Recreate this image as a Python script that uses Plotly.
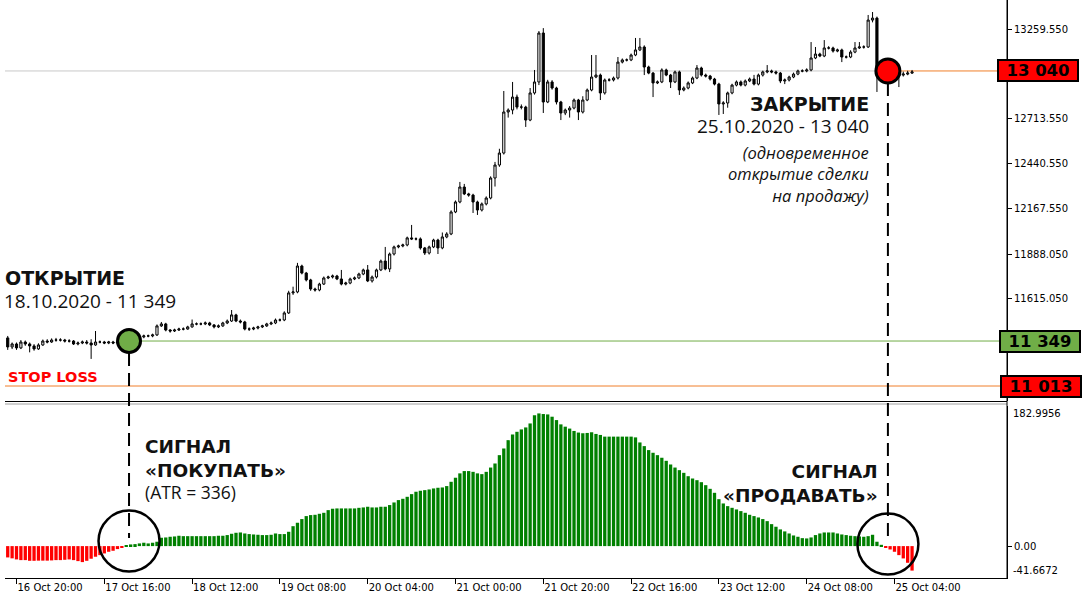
import pandas as pd
import plotly.graph_objects as go

# ---------------- data (hourly bars) ----------------
START = "2020-10-16 18:00"

OPEN = [
    11378, 11323, 11341, 11317, 11353, 11341, 11329, 11311, 11335, 11359,
    11353, 11365, 11365, 11365, 11359, 11359, 11341, 11347, 11353, 11347,
    11335, 11353, 11353, 11347, 11353, 11347, 11353, 11359, 11359, 11378,
    11384, 11384, 11390, 11390, 11396, 11451, 11463, 11426, 11420, 11426,
    11432, 11432, 11445, 11463, 11463, 11463, 11469, 11457, 11445, 11451,
    11469, 11481, 11518, 11481, 11475, 11432, 11432, 11438, 11445, 11451,
    11463, 11469, 11487, 11487, 11530, 11652, 11658, 11816, 11773, 11731,
    11676, 11670, 11706, 11743, 11749, 11755, 11737, 11706, 11712, 11737,
    11743, 11767, 11792, 11725, 11749, 11792, 11846, 11798, 11889, 11932,
    11938, 11944, 11987, 11981, 11981, 11926, 11895, 11932, 11974, 11926,
    11993, 12011, 12145, 12206, 12297, 12255, 12248, 12206, 12157, 12194,
    12230, 12352, 12431, 12504, 12754, 12766, 12845, 12784, 12784, 12705,
    12870, 12937, 13235, 12815, 12937, 12900, 12815, 12748, 12766, 12778,
    12827, 12754, 12827, 12888, 12967, 12979, 12870, 12949, 12949, 12961,
    13058, 13071, 13071, 13101, 13132, 13150, 13028, 12991, 12931, 12937,
    13010, 12979, 12937, 12998, 12888, 12900, 12931, 12961, 13022, 12979,
    12973, 12955, 12924, 12803, 12809, 12870, 12918, 12937, 12918, 12943,
    12955, 12924, 12979, 12998, 13004, 12998, 12991, 12943, 12949, 12967,
    12985, 13004, 13004, 13010, 13083, 13107, 13095, 13144, 13144, 13125,
    13132, 13089, 13089, 13119, 13144, 13150, 13150, 13314, 13326, 12979,
    12998, 12985, 13004, 12973, 12979, 12985, 12991,
]
HIGH = [
    11390, 11350, 11350, 11365, 11362, 11350, 11340, 11345, 11368, 11370,
    11375, 11378, 11376, 11372, 11370, 11365, 11356, 11362, 11365, 11370,
    11420, 11362, 11360, 11360, 11360, 11362, 11366, 11368, 11386, 11392,
    11392, 11398, 11398, 11404, 11460, 11475, 11470, 11432, 11434, 11440,
    11442, 11452, 11490, 11472, 11472, 11478, 11476, 11462, 11460, 11476,
    11490, 11548, 11525, 11490, 11482, 11442, 11446, 11452, 11458, 11470,
    11478, 11496, 11496, 11540, 11665, 11690, 11835, 11824, 11780, 11738,
    11684, 11714, 11752, 11757, 11764, 11762, 11792, 11720, 11745, 11752,
    11775, 11800, 11822, 11758, 11800, 11855, 11932, 11898, 11940, 11946,
    11952, 11995, 12066, 11990, 11990, 11932, 11940, 11982, 11982, 12020,
    12022, 12155, 12215, 12328, 12316, 12262, 12256, 12214, 12203, 12240,
    12362, 12450, 12530, 12882, 12776, 12937, 12860, 12800, 12792, 12900,
    13010, 13247, 13265, 12950, 12948, 12908, 12822, 12775, 12790, 12836,
    12834, 12850, 12897, 13101, 13101, 12988, 12958, 12960, 12970, 13089,
    13080, 13080, 13110, 13205, 13205, 13160, 13036, 12998, 12946, 13020,
    13018, 12986, 13006, 13006, 12910, 12940, 12970, 13040, 13030, 12988,
    12980, 12962, 12932, 12820, 12878, 12926, 12946, 12946, 12952, 12964,
    12980, 12988, 13006, 13040, 13012, 13006, 12998, 12958, 12975, 12994,
    13012, 13014, 13020, 13180, 13150, 13115, 13192, 13155, 13152, 13140,
    13140, 13098, 13130, 13180, 13180, 13160, 13345, 13363, 13335, 13010,
    13006, 13012, 13012, 12990, 13000, 13005, 13010,
]
LOW = [
    11305, 11310, 11305, 11310, 11330, 11290, 11300, 11305, 11330, 11345,
    11348, 11355, 11356, 11350, 11350, 11335, 11333, 11340, 11338, 11250,
    11330, 11345, 11340, 11340, 11340, 11342, 11348, 11350, 11352, 11370,
    11375, 11376, 11382, 11382, 11390, 11445, 11418, 11410, 11414, 11420,
    11424, 11428, 11440, 11455, 11455, 11456, 11450, 11436, 11438, 11445,
    11462, 11475, 11474, 11466, 11424, 11420, 11425, 11430, 11438, 11445,
    11456, 11462, 11478, 11480, 11524, 11640, 11650, 11765, 11722, 11665,
    11660, 11662, 11700, 11736, 11740, 11730, 11698, 11698, 11705, 11730,
    11736, 11760, 11718, 11715, 11740, 11785, 11790, 11779, 11880, 11924,
    11930, 11936, 11974, 11972, 11916, 11883, 11886, 11925, 11889, 11918,
    11985, 12004, 12138, 12198, 12248, 12238, 12139, 12127, 12148, 12185,
    12222, 12300, 12420, 12495, 12720, 12740, 12770, 12770, 12663, 12698,
    12860, 12918, 12748, 12808, 12890, 12800, 12705, 12735, 12720, 12770,
    12705, 12745, 12820, 12880, 12960, 12827, 12860, 12940, 12940, 12952,
    13050, 13062, 13064, 13094, 13125, 12979, 12984, 12845, 12924, 12930,
    12972, 12900, 12930, 12858, 12880, 12892, 12924, 12954, 12970, 12964,
    12946, 12916, 12736, 12742, 12780, 12862, 12910, 12910, 12910, 12936,
    12916, 12916, 12970, 12990, 12990, 12982, 12930, 12924, 12940, 12960,
    12978, 12996, 12996, 13002, 13076, 13088, 13088, 13135, 13116, 13118,
    13058, 13080, 13082, 13112, 13138, 13140, 13144, 13300, 12876, 12950,
    12970, 12976, 12960, 12906, 12970, 12978, 12986,
]
CLOSE = [
    11323, 11341, 11317, 11353, 11341, 11329, 11311, 11335, 11359, 11353,
    11365, 11365, 11365, 11359, 11359, 11341, 11347, 11353, 11347, 11335,
    11353, 11353, 11347, 11353, 11347, 11353, 11359, 11359, 11378, 11384,
    11384, 11390, 11390, 11396, 11451, 11463, 11426, 11420, 11426, 11432,
    11432, 11445, 11463, 11463, 11463, 11469, 11457, 11445, 11451, 11469,
    11481, 11518, 11481, 11475, 11432, 11432, 11438, 11445, 11451, 11463,
    11469, 11487, 11487, 11530, 11652, 11658, 11816, 11773, 11731, 11676,
    11670, 11706, 11743, 11749, 11755, 11737, 11706, 11712, 11737, 11743,
    11767, 11792, 11725, 11749, 11792, 11846, 11798, 11889, 11932, 11938,
    11944, 11987, 11981, 11981, 11926, 11895, 11932, 11974, 11926, 11993,
    12011, 12145, 12206, 12297, 12255, 12248, 12206, 12157, 12194, 12230,
    12352, 12431, 12504, 12754, 12766, 12845, 12784, 12784, 12705, 12870,
    12937, 13235, 12815, 12937, 12900, 12815, 12748, 12766, 12778, 12827,
    12754, 12827, 12888, 12967, 12979, 12870, 12949, 12949, 12961, 13058,
    13071, 13071, 13101, 13132, 13150, 13028, 12991, 12931, 12937, 13010,
    12979, 12937, 12998, 12888, 12900, 12931, 12961, 13022, 12979, 12973,
    12955, 12924, 12803, 12809, 12870, 12918, 12937, 12918, 12943, 12955,
    12924, 12979, 12998, 13004, 12998, 12991, 12943, 12949, 12967, 12985,
    13004, 13004, 13010, 13083, 13107, 13095, 13144, 13144, 13125, 13132,
    13089, 13089, 13119, 13144, 13150, 13150, 13314, 13326, 12979, 12998,
    12985, 13004, 12973, 12979, 12985, 12991, 12998,
]
HIST = [
    -14.8, -16, -17.4, -18.3, -18.3, -19.2, -19.2, -19, -19, -19,
    -18.7, -18.3, -18.3, -17.9, -17.4, -18.3, -19.6, -20.9, -19.2, -16.5,
    -13.9, -11.8, -9.6, -7.4, -6.1, -3.9, -1.3, 0.9, 2.2, 2.6,
    3.5, 4.4, 3.5, 4.4, 5.7, 10.9, 11.3, 12.2, 12.6, 13.5,
    13, 13, 13, 13, 13, 13, 13, 13, 13.5, 13.5,
    14.4, 16.1, 17.4, 17.8, 16.5, 15.7, 15.2, 14.8, 14.4, 14.4,
    14.8, 16.5, 15.7, 15.7, 18.7, 26, 30.5, 35.3, 39.2, 40.5,
    40.9, 42.2, 43.5, 47, 48.8, 49.2, 49.2, 49.2, 49.2, 49.2,
    50, 50.5, 51.4, 50.5, 50.5, 51.4, 51.4, 53.6, 57, 60.1,
    61.8, 64.4, 67.9, 71, 72.3, 73.1, 74, 75.3, 76.2, 76.6,
    78.4, 84, 89.3, 95, 98, 98, 97, 95, 94, 97,
    102.6, 107.9, 118.8, 127.5, 138.4, 145.8, 149.3, 152.4, 155, 160.2,
    171, 173.3, 172.5, 172, 169, 164.6, 159, 156, 153.5, 150.4,
    148.3, 147.4, 147.8, 148.7, 146.5, 145.2, 143, 143, 143, 143,
    143, 143, 143, 142, 135.4, 130.6, 125.4, 121.9, 118.8, 115.4,
    111.4, 106.6, 102.6, 99.2, 95.7, 91.3, 88.3, 86.1, 83.5, 79.6,
    74.8, 69.6, 61.3, 55.7, 52.2, 50, 47.9, 45.7, 43.5, 40.9,
    39.2, 37.4, 35.3, 32.6, 28.7, 25.3, 21.8, 19.2, 16.5, 13.9,
    12.2, 10.4, 10, 11.3, 14.4, 16.5, 17.8, 17.8, 17.8, 16.5,
    15.2, 14.4, 13.5, 13, 12.6, 12.2, 13, 14.8, 5.7, 1.7,
    -1.5, -4.4, -7.4, -11.8, -16.1, -21.8, -32,
]

TIME_TICKS = ["2020-10-16 20:00", "2020-10-17 16:00", "2020-10-18 12:00", "2020-10-19 08:00",
              "2020-10-20 04:00", "2020-10-21 00:00", "2020-10-21 20:00", "2020-10-22 16:00",
              "2020-10-23 12:00", "2020-10-24 08:00", "2020-10-25 04:00"]
TIME_TICK_TEXT = ["16 Oct 20:00", "17 Oct 16:00", "18 Oct 12:00", "19 Oct 08:00",
                  "20 Oct 04:00", "21 Oct 00:00", "21 Oct 20:00", "22 Oct 16:00",
                  "23 Oct 12:00", "24 Oct 08:00", "25 Oct 04:00"]
PRICE_TICKS = [13259.55, 12713.55, 12440.55, 12167.55, 11888.05, 11615.05]
PRICE_TICK_TEXT = ["13259.550", "12713.550", "12440.550", "12167.550", "11888.050", "11615.050"]
OSC_MAX = 182.9956
OSC_MIN = -41.6672

# trade levels (as drawn on the chart) and their labels
CLOSE_LEVEL, CLOSE_LABEL = 13004, "13 040"
OPEN_LEVEL, OPEN_LABEL = 11359, "11 349"
STOP_LEVEL, STOP_LABEL = 11085, "11 013"
ENTRY_TIME = "2020-10-17 21:38"
EXIT_TIME = "2020-10-25 02:30"
ENTRY_RING_VALUE = 6.5
EXIT_RING_VALUE = 2.6

X_RANGE = ["2020-10-16 17:22:49", "2020-10-26 05:37:37"]
PRICE_RANGE = [10993.7, 13436.2]

# ---------------- layout helpers ----------------
W, H = 1085, 602
def px(x):
    return x / W
def py(y):
    return 1 - y / H

times = pd.date_range(START, periods=len(CLOSE), freq="h")
htimes = pd.date_range(START, periods=len(HIST), freq="h")

AX_FONT = dict(family="DejaVu Sans", size=10, color="#000000")
BOLD = "DejaVu Sans"
LIGHT = "Open Sans"

fig = go.Figure()

fig.add_trace(go.Candlestick(
    x=times, open=OPEN, high=HIGH, low=LOW, close=CLOSE,
    increasing=dict(line=dict(color="#000000", width=1), fillcolor="#ffffff"),
    decreasing=dict(line=dict(color="#000000", width=1), fillcolor="#000000"),
    whiskerwidth=0, xaxis="x", yaxis="y", showlegend=False, hoverinfo="skip",
))

fig.add_trace(go.Bar(
    x=htimes, y=HIST,
    marker=dict(color=["#008000" if v >= 0 else "#ff0000" for v in HIST], line=dict(width=0)),
    xaxis="x2", yaxis="y2", showlegend=False, hoverinfo="skip",
))

# entry / exit markers
fig.add_trace(go.Scatter(
    x=[pd.Timestamp(ENTRY_TIME)], y=[OPEN_LEVEL], mode="markers",
    marker=dict(size=23, color="#70ad47", line=dict(color="#000000", width=3)),
    xaxis="x", yaxis="y", showlegend=False, hoverinfo="skip", cliponaxis=False,
))
fig.add_trace(go.Scatter(
    x=[pd.Timestamp(EXIT_TIME)], y=[CLOSE_LEVEL], mode="markers",
    marker=dict(size=24, color="#ff0000", line=dict(color="#000000", width=3)),
    xaxis="x", yaxis="y", showlegend=False, hoverinfo="skip", cliponaxis=False,
))
fig.add_trace(go.Scatter(
    x=[pd.Timestamp(ENTRY_TIME), pd.Timestamp(EXIT_TIME)],
    y=[ENTRY_RING_VALUE, EXIT_RING_VALUE], mode="markers",
    marker=dict(size=61, color="rgba(0,0,0,0)", line=dict(color="#000000", width=2.5)),
    xaxis="x2", yaxis="y2", showlegend=False, hoverinfo="skip", cliponaxis=False,
))

shapes = []
# level lines
shapes.append(dict(type="line", xref="x", yref="y", x0=X_RANGE[0], x1=EXIT_TIME,
                   y0=CLOSE_LEVEL, y1=CLOSE_LEVEL, line=dict(color="#c8c8c8", width=1), layer="below"))
shapes.append(dict(type="line", xref="x", yref="y", x0=EXIT_TIME, x1=X_RANGE[1],
                   y0=CLOSE_LEVEL, y1=CLOSE_LEVEL, line=dict(color="#f07f2a", width=1), layer="below"))
shapes.append(dict(type="line", xref="x", yref="y", x0=ENTRY_TIME, x1=X_RANGE[1],
                   y0=OPEN_LEVEL, y1=OPEN_LEVEL, line=dict(color="#70ad47", width=1), layer="below"))
shapes.append(dict(type="line", xref="x", yref="y", x0=X_RANGE[0], x1=X_RANGE[1],
                   y0=STOP_LEVEL, y1=STOP_LEVEL, line=dict(color="#f07f2a", width=1), layer="below"))
# separator between panels
shapes.append(dict(type="line", xref="paper", yref="paper", x0=px(5), x1=px(1007),
                   y0=py(401.5), y1=py(401.5), line=dict(color="#000000", width=1)))
shapes.append(dict(type="line", xref="paper", yref="paper", x0=px(5), x1=px(1007),
                   y0=py(404), y1=py(404), line=dict(color="#a0a0a0", width=1)))
# right axis line across both panels
shapes.append(dict(type="line", xref="paper", yref="paper", x0=px(1007), x1=px(1007),
                   y0=py(578), y1=1, line=dict(color="#000000", width=1)))
# dashed signal lines
shapes.append(dict(type="line", xref="x", yref="paper", x0=ENTRY_TIME, x1=ENTRY_TIME,
                   y0=py(353), y1=py(538), line=dict(color="#000000", width=2, dash="13px,7px")))
shapes.append(dict(type="line", xref="x", yref="paper", x0=EXIT_TIME, x1=EXIT_TIME,
                   y0=py(83), y1=py(538), line=dict(color="#000000", width=2, dash="13px,7px")))

ann = []
def txt(text, x, y, xanchor, size, family, bold=False, italic=False, color="#111111",
        yanchor="middle", align="left"):
    t = text
    if bold:
        t = "<b>" + t + "</b>"
    if italic:
        t = "<i>" + t + "</i>"
    ann.append(dict(text=t, xref="paper", yref="paper", x=px(x), y=py(y),
                    xanchor=xanchor, yanchor=yanchor, align=align, showarrow=False,
                    font=dict(family=family, size=size, color=color)))

txt("ОТКРЫТИЕ", 3, 278, "left", 19, BOLD, bold=True)
txt("18.10.2020 - 11 349", 2, 301, "left", 19, LIGHT)
txt("STOP LOSS", 6, 377, "left", 14.5, BOLD, bold=True, color="#ff0000")
txt("ЗАКРЫТИЕ", 871, 104, "right", 19, BOLD, bold=True)
txt("25.10.2020 - 13 040", 871, 126, "right", 19, LIGHT)
txt("(одновременное<br>открытие сделки<br>на продажу)", 871, 138.5, "right", 16.5, LIGHT,
    italic=True, yanchor="top", align="right")
txt("СИГНАЛ<br>«ПОКУПАТЬ»", 143, 458, "left", 18.5, BOLD, bold=True)
txt("(ATR = 336)", 143, 492, "left", 17.5, LIGHT)
txt("СИГНАЛ<br>«ПРОДАВАТЬ»", 880, 483, "right", 18.5, BOLD, bold=True, align="right")

# price tags on the scale
for level, label, colr, cx in [(CLOSE_LEVEL, CLOSE_LABEL, "#ff0000", 1038),
                               (OPEN_LEVEL, OPEN_LABEL, "#70ad47", 1040),
                               (STOP_LEVEL, STOP_LABEL, "#ff0000", 1041)]:
    ann.append(dict(text="<b>" + label + "</b>", xref="paper", yref="y", x=px(cx), y=level,
                    xanchor="center", yanchor="middle", showarrow=False,
                    bgcolor=colr, bordercolor="#000000", borderwidth=2, borderpad=0,
                    width=78, height=19,
                    font=dict(family=BOLD, size=16.5, color="#000000")))

# oscillator min / max labels
ann.append(dict(text="182.9956", xref="paper", yref="y2", x=px(1011), y=OSC_MAX,
                xanchor="left", yanchor="top", showarrow=False, font=AX_FONT))
ann.append(dict(text="-41.6672", xref="paper", yref="y2", x=px(1011), y=OSC_MIN,
                xanchor="left", yanchor="bottom", showarrow=False, font=AX_FONT))

fig.update_layout(
    width=W, height=H,
    margin=dict(l=0, r=0, t=0, b=0, autoexpand=False),
    paper_bgcolor="#ffffff", plot_bgcolor="#ffffff",
    showlegend=False, bargap=0.25,
    xaxis=dict(domain=[px(5), px(1007)], range=X_RANGE, type="date", anchor="y",
               automargin=False,
               showticklabels=False, showgrid=False, zeroline=False, showline=False,
               ticks="", rangeslider=dict(visible=False)),
    xaxis2=dict(domain=[px(5), px(1007)], range=X_RANGE, type="date", anchor="y2",
                automargin=False,
                matches="x", showgrid=False, zeroline=False,
                showline=True, linecolor="#000000", linewidth=1,
                tickmode="array", tickvals=TIME_TICKS, ticktext=TIME_TICK_TEXT,
                ticks="outside", ticklen=5, tickcolor="#000000",
                ticklabelposition="outside right", tickfont=AX_FONT),
    yaxis=dict(domain=[py(401), 1], range=PRICE_RANGE, side="right", anchor="x",
               automargin=False,
               showgrid=False, zeroline=False, showline=True, linecolor="#000000",
               tickmode="array", tickvals=PRICE_TICKS, ticktext=PRICE_TICK_TEXT,
               ticks="outside", ticklen=4, tickcolor="#000000", tickfont=AX_FONT),
    yaxis2=dict(domain=[py(578), py(406)], range=[OSC_MIN, OSC_MAX], side="right", anchor="x2",
                automargin=False,
                showgrid=False, zeroline=False, showline=True, linecolor="#000000",
                tickmode="array", tickvals=[0], ticktext=["0.00"],
                ticks="outside", ticklen=4, tickcolor="#000000", tickfont=AX_FONT),
    shapes=shapes, annotations=ann,
)

fig.write_html("out.html")
